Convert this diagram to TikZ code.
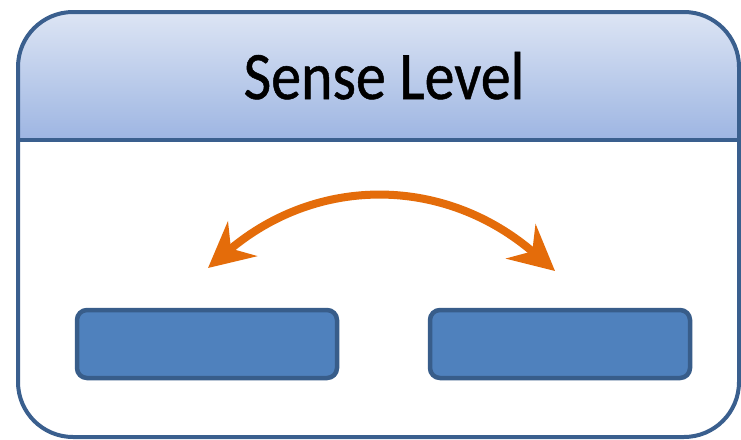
\documentclass[tikz,border=0pt]{standalone}
\usepackage{fontspec}
\setmainfont{Carlito}
\newfontfamily\titlefont[FakeBold=0.8]{Carlito}
\usetikzlibrary{arrows.meta}
\definecolor{frame}{HTML}{3A5F8E}
\definecolor{hdtop}{HTML}{DDE5F4}
\definecolor{hdbot}{HTML}{9DB5E2}
\definecolor{boxfill}{HTML}{4F81BD}
\definecolor{boxline}{HTML}{385D8A}
\definecolor{arrorange}{HTML}{E46C0A}
\tikzset{
  leafbox/.style={draw=boxline, fill=boxfill, line width=4.5pt, rounded corners=10pt, minimum width=260pt, minimum height=68pt, inner sep=0pt},
  swaparrow/.style={draw=arrorange, line width=8pt, {Stealth[length=45pt,width=45pt,inset=15pt]}-{Stealth[length=45pt,width=45pt,inset=15pt]}}
}
\begin{document}
\begin{tikzpicture}[x=1pt,y=-1pt]
\useasboundingbox (0,0) rectangle (741,439);
\clip (0,0) rectangle (741,439);
\fill[white] (18,12) rectangle (739,437);
\begin{scope}
  \clip[rounded corners=55pt] (18,12) rectangle (739,437);
  \shade[top color=hdtop, bottom color=hdbot] (18,12) rectangle (739,140);
\end{scope}
\draw[frame, line width=4pt] (18,140) -- (739,140);
\draw[frame, line width=4pt, rounded corners=55pt] (18,12) rectangle (739,437);
\node[anchor=base, font=\titlefont\fontsize{60}{63}\selectfont, inner sep=0pt, yscale=1.13] (title) at (384,99) {Sense Level};
\node[leafbox] (left) at (207,344) {};
\node[leafbox] (right) at (560,344) {};
\coordinate (la) at (208,268);
\coordinate (ra) at (555,271);
\draw[swaparrow] (la) .. controls (318,175) and (445,176) .. (ra);
\end{tikzpicture}
\end{document}
